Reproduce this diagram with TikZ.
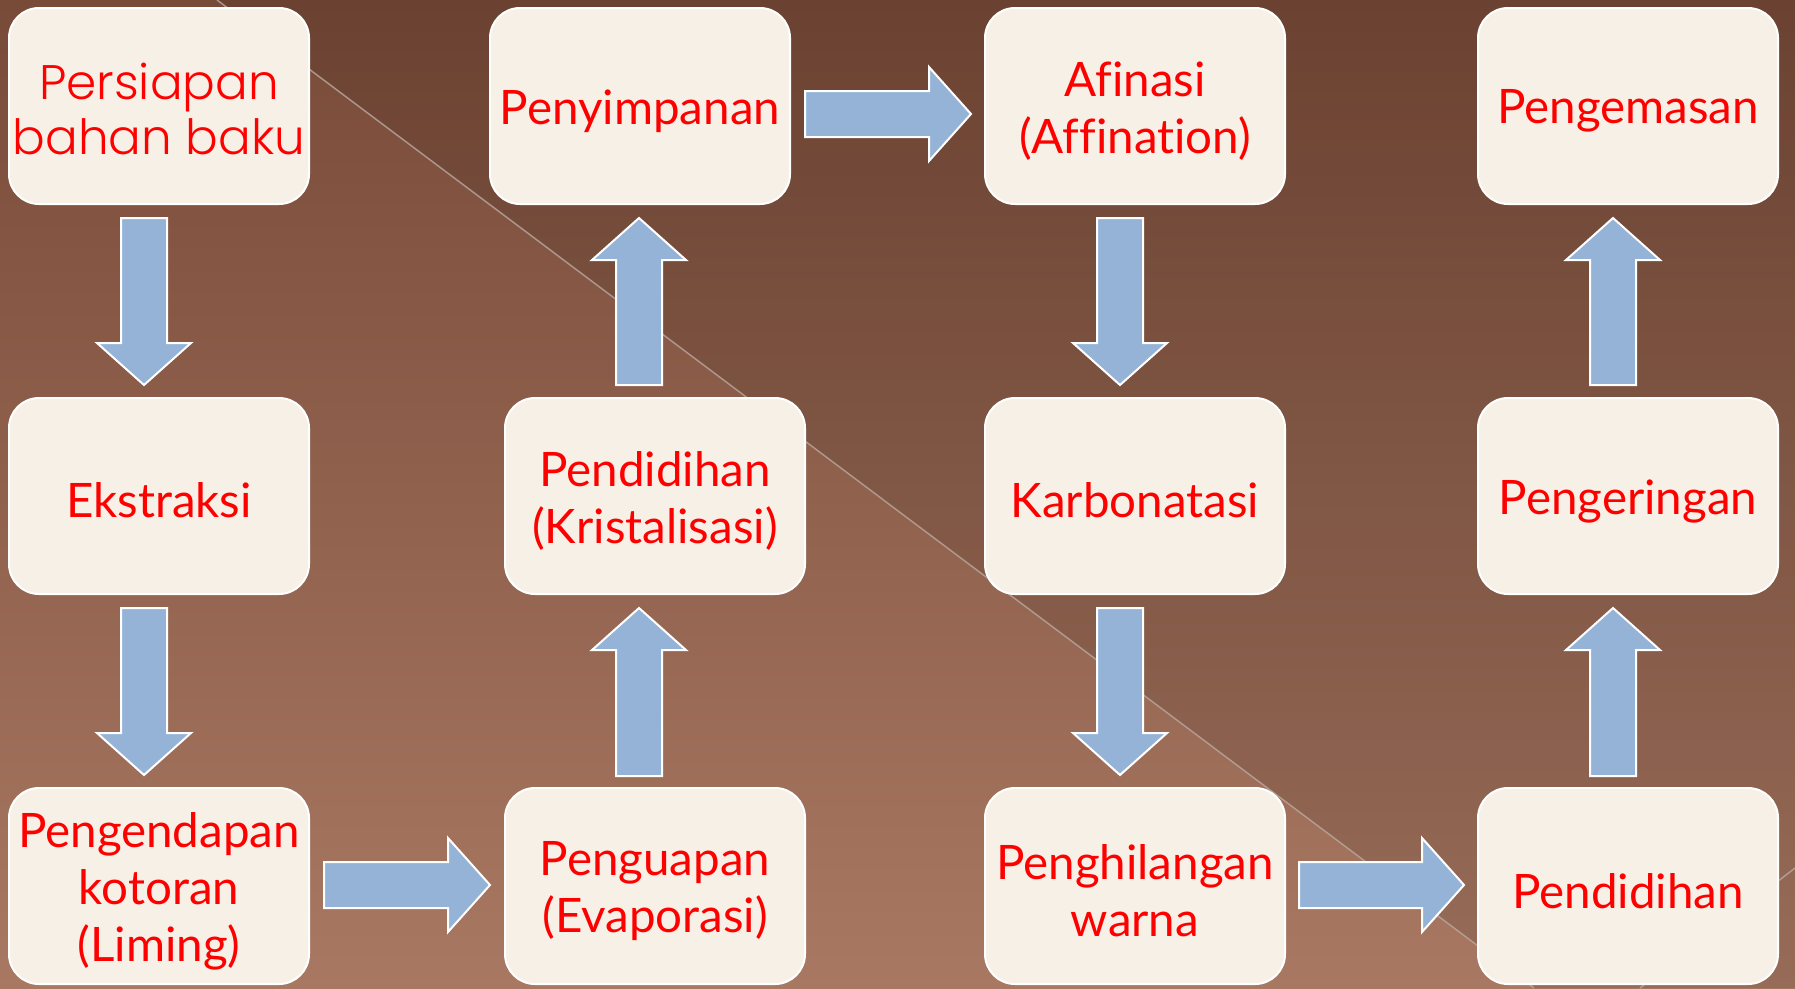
\documentclass[tikz,border=0pt]{standalone}
\usepackage{fontspec}
\setmainfont{Lato}[Ligatures=NoCommon]
\newfontfamily\gothic{Poppins}[UprightFont=* Light]
\usetikzlibrary{calc}
\definecolor{bgtop}{HTML}{784A38}
\definecolor{bgbot}{HTML}{A87862}
\definecolor{boxfill}{HTML}{F7F0E6}
\definecolor{arrowfill}{HTML}{95B3D7}
\definecolor{txtred}{HTML}{FF0000}
\definecolor{linecol}{HTML}{B8A8A0}
\tikzset{
  stagebox/.style={draw=white, line width=2pt, fill=boxfill, rounded corners=30pt,
    minimum width=300pt, minimum height=196pt, outer sep=0pt, inner sep=0pt},
  stagetext/.style={align=center, text=txtred, inner sep=0pt,
    font=\fontsize{47.5}{57}\selectfont},
  flowarrow/.style={draw=white, line width=2pt, fill=arrowfill, line join=miter},
}
\newcommand\blockarrow[2]{%
  \coordinate (ba-h) at ($(#2)!42pt!(#1)$);
  \draw[flowarrow] ($(#1)!23pt!90:(#2)$) -- ($(ba-h)!23pt!90:(#2)$) --
    ($(ba-h)!47pt!90:(#2)$) -- (#2) -- ($(ba-h)!47pt!-90:(#2)$) --
    ($(ba-h)!23pt!-90:(#2)$) -- ($(#1)!23pt!-90:(#2)$) -- cycle;
}
\begin{document}
\begin{tikzpicture}[x=1pt,y=-1pt]
\useasboundingbox (0,0) rectangle (1795,988);
% background
\fill[top color=bgtop, bottom color=bgbot] (0,0) rectangle (1795,988);
\fill[black, opacity=0.1] (217,0) -- (1795,0) -- (1795,988) -- (1534,988) -- cycle;
\draw[linecol, line width=1.5pt, opacity=0.8] (217,0) -- (1534,988);
\draw[linecol, line width=1.5pt, opacity=0.8] (1640,988) -- (1795,868);
% boxes
\node[stagebox] (b1) at (159,106) {};
\node[stagebox] (b2) at (640,106) {};
\node[stagebox] (b3) at (1135,106) {};
\node[stagebox] (b4) at (1628,106) {};
\node[stagebox] (b5) at (159,496) {};
\node[stagebox] (b6) at (655,496) {};
\node[stagebox] (b7) at (1135,496) {};
\node[stagebox] (b8) at (1628,496) {};
\node[stagebox] (b9) at (159,886) {};
\node[stagebox] (b10) at (655,886) {};
\node[stagebox] (b11) at (1135,886) {};
\node[stagebox] (b12) at (1628,886) {};
% labels
\node[stagetext, font=\gothic\fontsize{48.5}{55}\selectfont] (t1) at ($(b1)+(0,3)$) {Persiapan\\bahan baku};
\node[stagetext] (t2) at ($(b2)+(0,5)$) {Penyimpanan};
\node[stagetext] (t3) at ($(b3)+(0,5)$) {Afinasi\\(Affination)};
\node[stagetext] (t4) at ($(b4)+(0,5)$) {Pengemasan};
\node[stagetext] (t5) at ($(b5)+(0,4)$) {Ekstraksi};
\node[stagetext] (t6) at ($(b6)+(0,5)$) {Pendidihan\\(Kristalisasi)};
\node[stagetext] (t7) at ($(b7)+(0,4)$) {Karbonatasi};
\node[stagetext] (t8) at ($(b8)+(0,5)$) {Pengeringan};
\node[stagetext] (t9) at ($(b9)+(0,5)$) {Pengendapan\\kotoran\\(Liming)};
\node[stagetext] (t10) at ($(b10)+(0,5)$) {Penguapan\\(Evaporasi)};
\node[stagetext] (t11) at ($(b11)+(0,5)$) {Penghilangan\\warna};
\node[stagetext] (t12) at ($(b12)+(0,5)$) {Pendidihan};
% arrows
\blockarrow{$(b1.south)+(-15,14)$}{$(b5.north)+(-15,-13)$}
\blockarrow{$(b5.south)+(-15,14)$}{$(b9.north)+(-15,-13)$}
\blockarrow{$(b9.east)+(15,-1)$}{$(b10.west)+(-15,-1)$}
\blockarrow{$(b10.north)+(-16,-12)$}{$(b6.south)+(-16,14)$}
\blockarrow{$(b6.north)+(-16,-13)$}{$(b2.south)+(-1,14)$}
\blockarrow{$(b2.east)+(15,8)$}{$(b3.west)+(-14,8)$}
\blockarrow{$(b3.south)+(-15,14)$}{$(b7.north)+(-15,-13)$}
\blockarrow{$(b7.south)+(-15,14)$}{$(b11.north)+(-15,-13)$}
\blockarrow{$(b11.east)+(14,-1)$}{$(b12.west)+(-14,-1)$}
\blockarrow{$(b12.north)+(-15,-12)$}{$(b8.south)+(-15,14)$}
\blockarrow{$(b8.north)+(-15,-13)$}{$(b4.south)+(-15,14)$}
\end{tikzpicture}
\end{document}
